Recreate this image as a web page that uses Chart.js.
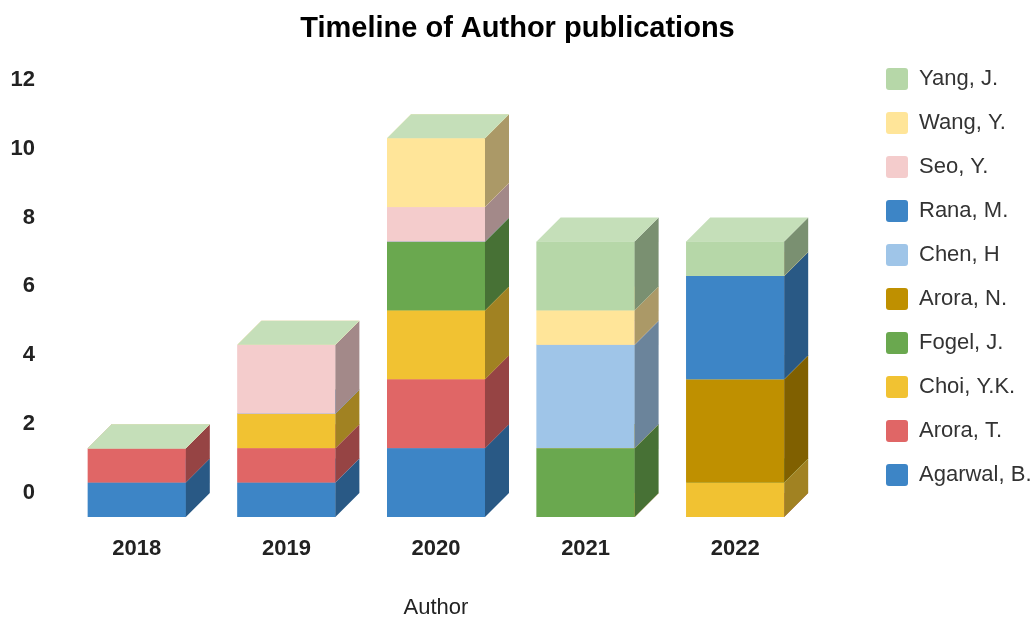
<!DOCTYPE html>
<html><head><meta charset="utf-8">
<script src="https://cdn.jsdelivr.net/npm/chart.js@4/dist/chart.umd.min.js"></script>
<style>html,body{margin:0;padding:0;background:#fff}#wrap{position:relative;width:1035px;height:617px}</style>
</head><body><div id="wrap"><canvas id="c" width="1035" height="617"></canvas></div>
<script>
// ---- data ----
const categories = ['2018', '2019', '2020', '2021', '2022'];
const agarwalB = [1, 1, 2, 0, 0];
const aroraT   = [1, 1, 2, 0, 0];
const choiYK   = [0, 1, 2, 0, 1];
const fogelJ   = [0, 0, 2, 2, 0];
const aroraN   = [0, 0, 0, 0, 3];
const chenH    = [0, 0, 0, 3, 0];
const ranaM    = [0, 0, 0, 0, 3];
const seoY     = [0, 2, 1, 0, 0];
const wangY    = [0, 0, 2, 1, 0];
const yangJ    = [0, 0, 0, 2, 1];
const seriesNames = ['Agarwal, B.', 'Arora, T.', 'Choi, Y.K.', 'Fogel, J.', 'Arora, N.', 'Chen, H', 'Rana, M.', 'Seo, Y.', 'Wang, Y.', 'Yang, J.'];
const seriesValues = [agarwalB, aroraT, choiYK, fogelJ, aroraN, chenH, ranaM, seoY, wangY, yangJ];
const seriesColors = ['#3d85c6', '#e06666', '#f1c232', '#6aa84f', '#bf9000', '#9fc5e8', '#3d85c6', '#f4cccc', '#ffe599', '#b6d7a8'];
const yMin = 0, yMax = 12, yStep = 2;

const FONT = '"Liberation Sans", Arial, sans-serif';
const DEPTH = 24;

function hexRgb(h) { const n = parseInt(h.slice(1), 16); return [(n >> 16) & 255, (n >> 8) & 255, n & 255]; }
function shade(h, f) { const [r, g, b] = hexRgb(h); return `rgb(${Math.round(r * f)},${Math.round(g * f)},${Math.round(b * f)})`; }
function tint(h, f) { const [r, g, b] = hexRgb(h); return `rgb(${Math.round(r + (255 - r) * f)},${Math.round(g + (255 - g) * f)},${Math.round(b + (255 - b) * f)})`; }

// Draws each stacked segment as a box (front, right side, top) in stacking order
const box3d = {
  id: 'box3d',
  afterDatasetsDraw(chart) {
    const ctx = chart.ctx;
    ctx.save();
    chart.data.datasets.forEach((ds, di) => {
      const meta = chart.getDatasetMeta(di);
      if (meta.hidden) return;
      const c = ds.backgroundColor;
      meta.data.forEach(bar => {
        const p = bar.getProps(['x', 'y', 'base', 'width'], true);
        const l = p.x - p.width / 2, r = p.x + p.width / 2;
        const t = Math.min(p.y, p.base), b = Math.max(p.y, p.base);
        ctx.fillStyle = c;
        ctx.fillRect(l, t, r - l, b - t);
        ctx.fillStyle = shade(c, 0.67);
        ctx.beginPath();
        ctx.moveTo(r, b); ctx.lineTo(r + DEPTH, b - DEPTH); ctx.lineTo(r + DEPTH, t - DEPTH); ctx.lineTo(r, t);
        ctx.closePath(); ctx.fill();
        ctx.fillStyle = tint(c, 0.2);
        ctx.beginPath();
        ctx.moveTo(l, t); ctx.lineTo(l + DEPTH, t - DEPTH); ctx.lineTo(r + DEPTH, t - DEPTH); ctx.lineTo(r, t);
        ctx.closePath(); ctx.fill();
      });
    });
    ctx.restore();
  }
};

const chart = new Chart(document.getElementById('c'), {
  type: 'bar',
  data: {
    labels: categories,
    datasets: seriesNames.map((name, i) => ({
      label: name,
      data: seriesValues[i],
      backgroundColor: seriesColors[i],
      borderWidth: 0,
      yAxisID: 'y',
      barPercentage: 0.655,
      categoryPercentage: 1
    }))
  },
  options: {
    responsive: false,
    animation: false,
    devicePixelRatio: 1,
    layout: { padding: 0 },
    scales: {
      x: {
        stacked: true,
        grid: { display: false, drawTicks: false },
        border: { display: false },
        ticks: { color: '#222', padding: 19, font: { family: FONT, size: 22, weight: 'bold' } },
        title: { display: true, text: 'Author', color: '#222', font: { family: FONT, size: 22, lineHeight: 0.8 }, padding: { top: 18, bottom: 0 } },
        afterFit: s => { s.height = 100; }
      },
      y: {
        stacked: true,
        min: yMin, max: yMax,
        grid: { display: false, drawTicks: false },
        border: { display: false },
        ticks: { stepSize: yStep, color: '#222', padding: 27, labelOffset: -DEPTH, font: { family: FONT, size: 22, weight: 'bold' } },
        afterFit: s => { s.width = 62; }
      },
      yR: {
        type: 'linear', position: 'right', display: true,
        grid: { display: false, drawTicks: false },
        border: { display: false },
        ticks: { display: false },
        afterFit: s => { s.width = 54; }
      }
    },
    plugins: {
      tooltip: { enabled: false },
      title: {
        display: true, text: 'Timeline of Author publications', color: '#000',
        font: { family: FONT, size: 29, weight: 'bold' },
        padding: { top: 12, bottom: 57 }
      },
      legend: {
        position: 'right', align: 'start', reverse: true, maxWidth: 171,
        title: { display: true, text: '', font: { size: 10, lineHeight: 1 }, padding: { top: 0, bottom: 36 } },
        labels: {
          color: '#333', boxWidth: 22, boxHeight: 22, padding: 22,
          useBorderRadius: true, borderRadius: 3,
          font: { family: FONT, size: 22 }
        }
      }
    }
  },
  plugins: [box3d]
});
</script></body></html>
